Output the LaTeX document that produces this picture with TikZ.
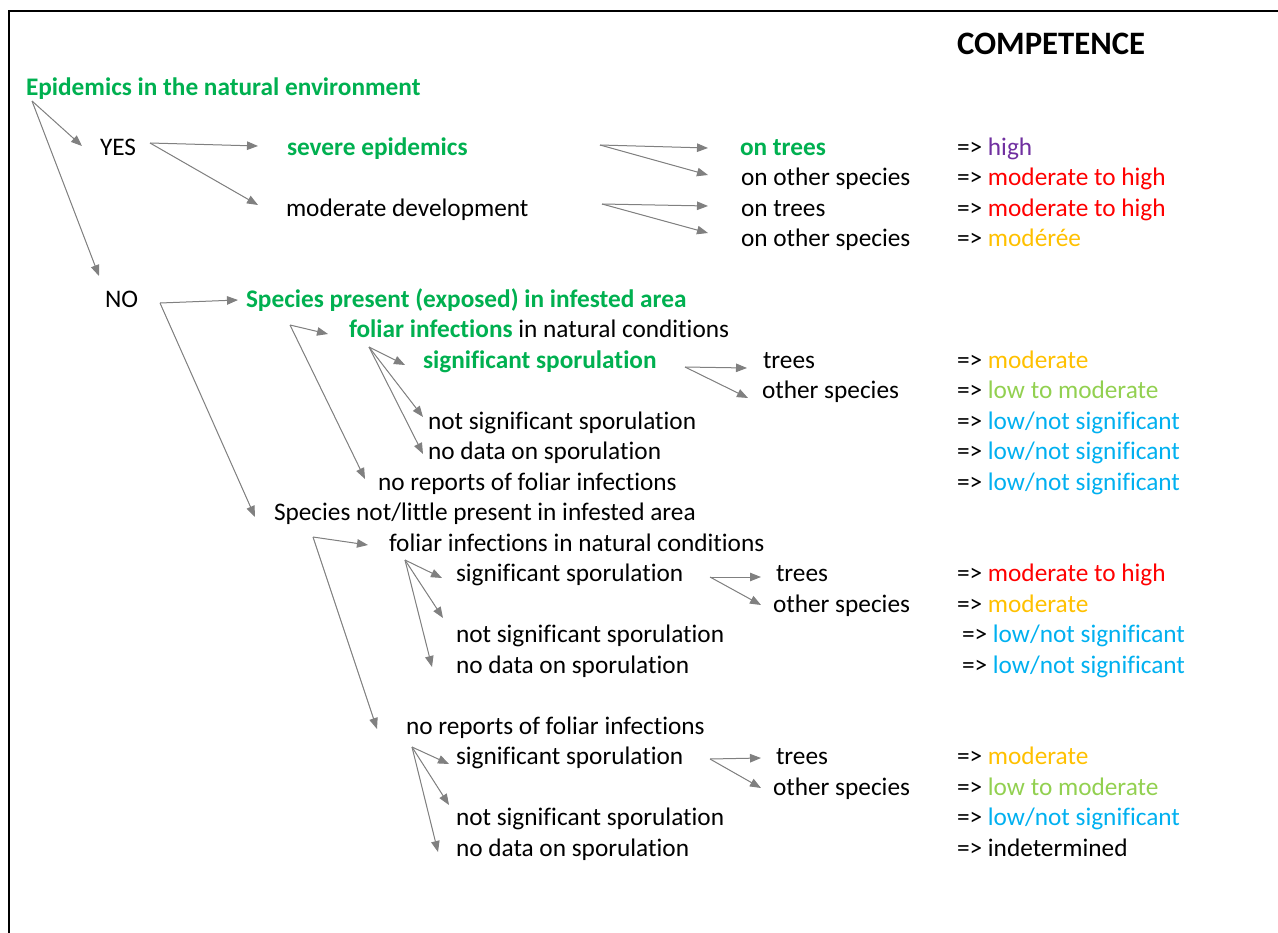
\documentclass[tikz,border=0pt]{standalone}
\usepackage{fontspec}
\setmainfont{Carlito}[Ligatures=NoCommon]
\usetikzlibrary{arrows.meta}
\definecolor{cgreen}{HTML}{00B050}
\definecolor{cpurple}{HTML}{7030A0}
\definecolor{cred}{HTML}{FF0000}
\definecolor{corange}{HTML}{FFC000}
\definecolor{clgreen}{HTML}{92D050}
\definecolor{cblue}{HTML}{00B0F0}
\definecolor{carrow}{HTML}{808080}
\begin{document}
\begin{tikzpicture}[x=1bp,y=-1bp,
  txt/.style={anchor=base west,inner sep=0pt,outer sep=0pt,font=\fontsize{25.3bp}{28bp}\selectfont},
  gtxt/.style={txt,text=cgreen,font=\fontsize{25.3bp}{28bp}\selectfont\bfseries},
  arr/.style={draw=carrow,line width=1bp,-{Triangle[length=11bp,width=8.5bp]},fill=carrow}
]
\useasboundingbox (0,0) rectangle (1278,933);
\draw[line width=2bp] (9,940) -- (9,11) -- (1285,11);

% header
\node[txt,font=\fontsize{32.7bp}{36bp}\selectfont\bfseries] (comp) at (957,54) {COMPETENCE};

% level texts
\node[gtxt] (epi) at (26,95) {Epidemics in the natural environment};
\node[txt] (yes) at (100,155) {YES};
\node[gtxt] (severe) at (287,155) {severe epidemics};
\node[txt] (moddev) at (286,216) {moderate development};
\node[gtxt] (ontreesA) at (740,155) {on trees};
\node[txt] (onotherA) at (741,185) {on other species};
\node[txt] (ontreesB) at (741,216) {on trees};
\node[txt] (onotherB) at (741,246) {on other species};

\node[txt] (no) at (105,307) {NO};
\node[gtxt] (spres) at (246,307) {Species present (exposed) in infested area};
\node[txt] (foliarA) at (349,337) {\textcolor{cgreen}{\bfseries foliar infections} in natural conditions};
\node[gtxt] (sigA) at (423,368) {significant sporulation};
\node[txt] (treesA) at (763,368) {trees};
\node[txt] (otherA) at (762,398) {other species};
\node[txt] (notsigA) at (428,429) {not significant sporulation};
\node[txt] (nodataA) at (428,459) {no data on sporulation};
\node[txt] (norepA) at (378,490) {no reports of foliar infections};

\node[txt] (spnot) at (274,520) {Species not/little present in infested area};
\node[txt] (foliarB) at (389,551) {foliar infections in natural conditions};
\node[txt] (sigB) at (456,581) {significant sporulation};
\node[txt] (treesB) at (776,581) {trees};
\node[txt] (otherB) at (773,612) {other species};
\node[txt] (notsigB) at (456,642) {not significant sporulation};
\node[txt] (nodataB) at (456,673) {no data on sporulation};

\node[txt] (norepB) at (406,734) {no reports of foliar infections};
\node[txt] (sigC) at (456,764) {significant sporulation};
\node[txt] (treesC) at (776,764) {trees};
\node[txt] (otherC) at (773,795) {other species};
\node[txt] (notsigC) at (456,825) {not significant sporulation};
\node[txt] (nodataC) at (456,856) {no data on sporulation};

% results
\node[txt] (r1) at (957,155) {=> \textcolor{cpurple}{high}};
\node[txt] (r2) at (957,185) {=> \textcolor{cred}{moderate to high}};
\node[txt] (r3) at (957,216) {=> \textcolor{cred}{moderate to high}};
\node[txt] (r4) at (957,246) {=> \textcolor{corange}{modérée}};
\node[txt] (r5) at (957,368) {=> \textcolor{corange}{moderate}};
\node[txt] (r6) at (957,398) {=> \textcolor{clgreen}{low to moderate}};
\node[txt] (r7) at (957,429) {=> \textcolor{cblue}{low/not significant}};
\node[txt] (r8) at (957,459) {=> \textcolor{cblue}{low/not significant}};
\node[txt] (r9) at (957,490) {=> \textcolor{cblue}{low/not significant}};
\node[txt] (r10) at (957,581) {=> \textcolor{cred}{moderate to high}};
\node[txt] (r11) at (957,612) {=> \textcolor{corange}{moderate}};
\node[txt] (r12) at (962,642) {=> \textcolor{cblue}{low/not significant}};
\node[txt] (r13) at (962,673) {=> \textcolor{cblue}{low/not significant}};
\node[txt] (r14) at (957,764) {=> \textcolor{corange}{moderate}};
\node[txt] (r15) at (957,795) {=> \textcolor{clgreen}{low to moderate}};
\node[txt] (r16) at (957,825) {=> \textcolor{cblue}{low/not significant}};
\node[txt] (r17) at (957,856) {=> indetermined};

% branch points
\coordinate (bEpi) at (32,101);
\coordinate (bYes) at (150,143);
\coordinate (bSev) at (600,145);
\coordinate (bMod) at (602,204);
\coordinate (bNo) at (160,303);
\coordinate (bSpres) at (290,325);
\coordinate (bFolA) at (369,347);
\coordinate (bSigA) at (685,367);
\coordinate (bSpnot) at (313,537);
\coordinate (bFolB) at (405,560);
\coordinate (bSigB) at (710,577);
\coordinate (bNorB) at (412,747);
\coordinate (bSigC) at (710,759);

% tips
\coordinate (tYes) at (82,146);
\coordinate (tNo) at (99,276);
\coordinate (tSev) at (258,146);
\coordinate (tMod) at (258,205);
\coordinate (tOnTA) at (708,148);
\coordinate (tOnOA) at (708,175);
\coordinate (tOnTB) at (708,206);
\coordinate (tOnOB) at (708,233);
\coordinate (tSpres) at (238,300);
\coordinate (tSpnot) at (255,517);
\coordinate (tFolA) at (328,334);
\coordinate (tNorA) at (365,479);
\coordinate (tSigA) at (405,365);
\coordinate (tNotA) at (423,417);
\coordinate (tNodA) at (423,454);
\coordinate (tTrA) at (747,368);
\coordinate (tOtA) at (748,398);
\coordinate (tFolB) at (368,545);
\coordinate (tNorB) at (377,729);
\coordinate (tSigB) at (442,578);
\coordinate (tNotB) at (443,618);
\coordinate (tNodB) at (432,667);
\coordinate (tTrB) at (761,577);
\coordinate (tOtB) at (761,605);
\coordinate (tSigC) at (449,764);
\coordinate (tNotC) at (449,805);
\coordinate (tNodC) at (438,852);
\coordinate (tTrC) at (761,758);
\coordinate (tOtC) at (761,788);

% connectors
\draw[arr] (bEpi) -- (tYes);
\draw[arr] (bEpi) -- (tNo);
\draw[arr] (bYes) -- (tSev);
\draw[arr] (bYes) -- (tMod);
\draw[arr] (bSev) -- (tOnTA);
\draw[arr] (bSev) -- (tOnOA);
\draw[arr] (bMod) -- (tOnTB);
\draw[arr] (bMod) -- (tOnOB);
\draw[arr] (bNo) -- (tSpres);
\draw[arr] (bNo) -- (tSpnot);
\draw[arr] (bSpres) -- (tFolA);
\draw[arr] (bSpres) -- (tNorA);
\draw[arr] (bFolA) -- (tSigA);
\draw[arr] (bFolA) -- (tNotA);
\draw[arr] (bFolA) -- (tNodA);
\draw[arr] (bSigA) -- (tTrA);
\draw[arr] (bSigA) -- (tOtA);
\draw[arr] (bSpnot) -- (tFolB);
\draw[arr] (bSpnot) -- (tNorB);
\draw[arr] (bFolB) -- (tSigB);
\draw[arr] (bFolB) -- (tNotB);
\draw[arr] (bFolB) -- (tNodB);
\draw[arr] (bSigB) -- (tTrB);
\draw[arr] (bSigB) -- (tOtB);
\draw[arr] (bNorB) -- (tSigC);
\draw[arr] (bNorB) -- (tNotC);
\draw[arr] (bNorB) -- (tNodC);
\draw[arr] (bSigC) -- (tTrC);
\draw[arr] (bSigC) -- (tOtC);
\end{tikzpicture}
\end{document}
